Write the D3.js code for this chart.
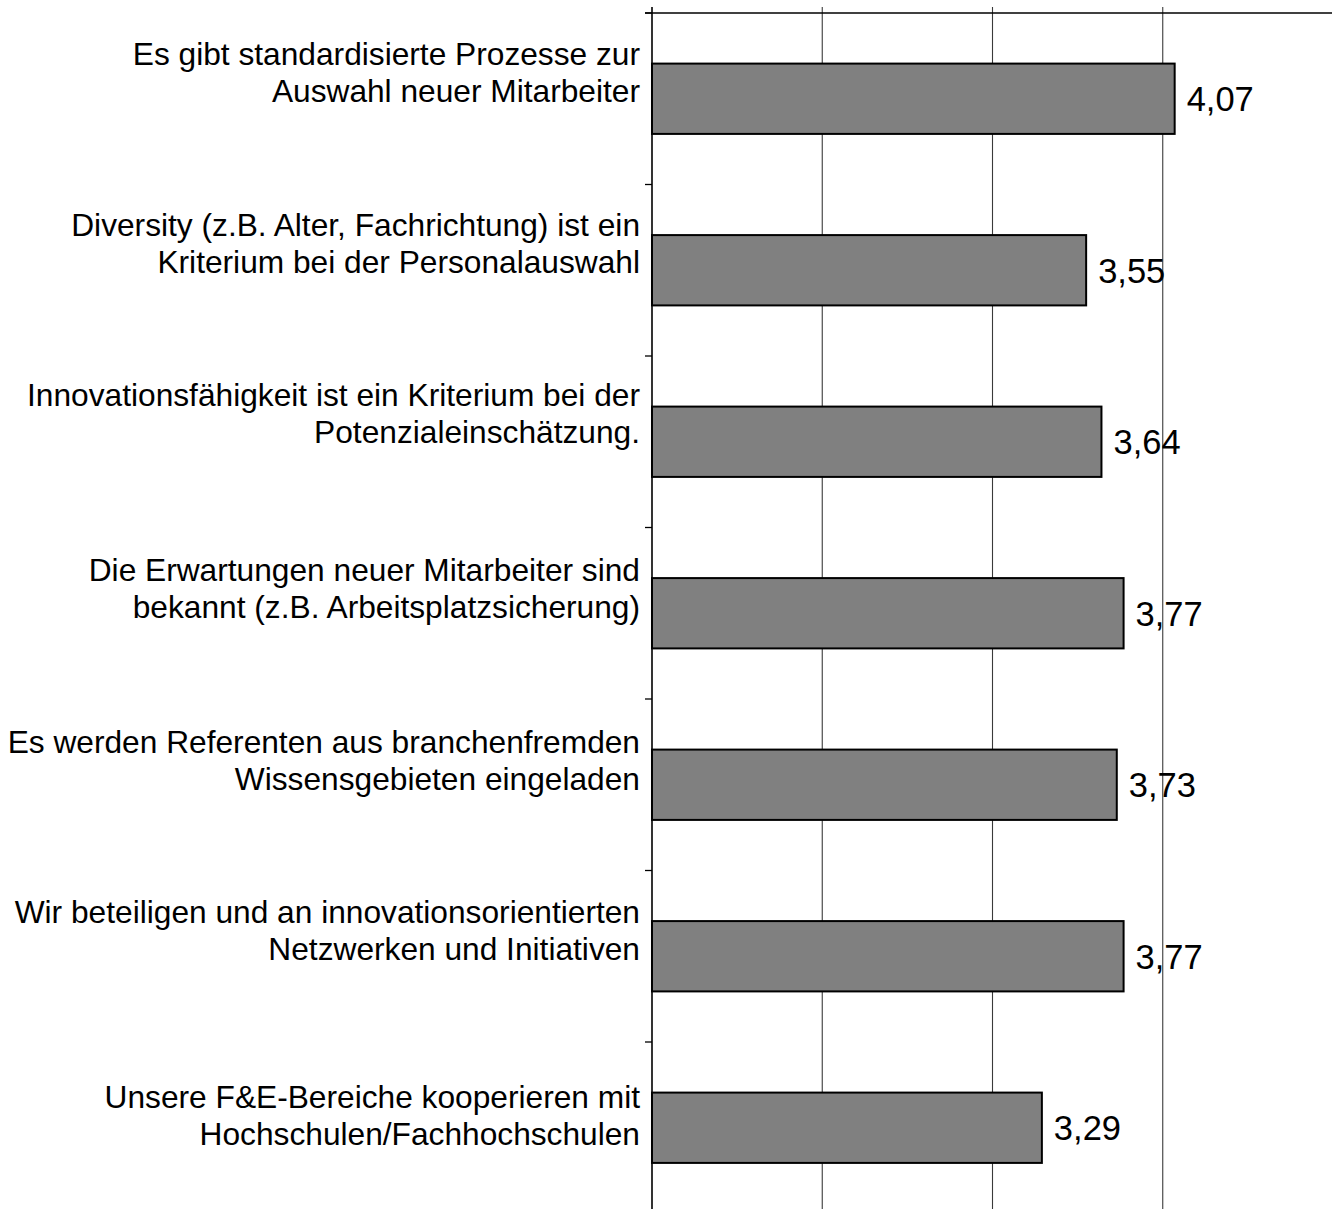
<!DOCTYPE html>
<html>
<head>
<meta charset="utf-8">
<script src="https://cdn.jsdelivr.net/npm/d3@7"></script>
<style>
  html, body { margin: 0; padding: 0; background: #fff; }
  svg { display: block; font-family: "Liberation Sans", Arial, sans-serif; }
</style>
</head>
<body>
<svg id="chart" width="1332" height="1209"></svg>
<script>
// ---- data ----
const categories = [
  "Es gibt standardisierte Prozesse zur\nAuswahl neuer Mitarbeiter",
  "Diversity (z.B. Alter, Fachrichtung) ist ein\nKriterium bei der Personalauswahl",
  "Innovationsfähigkeit ist ein Kriterium bei der\nPotenzialeinschätzung.",
  "Die Erwartungen neuer Mitarbeiter sind\nbekannt (z.B. Arbeitsplatzsicherung)",
  "Es werden Referenten aus branchenfremden\nWissensgebieten eingeladen",
  "Wir beteiligen und an innovationsorientierten\nNetzwerken und Initiativen",
  "Unsere F&E-Bereiche kooperieren mit\nHochschulen/Fachhochschulen"
];
const values = [4.07, 3.55, 3.64, 3.77, 3.73, 3.77, 3.29];
const xTicks = [1, 2, 3, 4, 5];

// ---- layout ----
const W = 1332, H = 1209;
const plotLeft = 652, plotRight = 1333, plotTop = 13;
const step = 171.5;
const plotBottom = plotTop + step * categories.length;
const labelShift = [3.5, 3, 1.5, 5, 5, 4, 17]; // baseline offsets of 2nd label line vs band centre
const lineGap = 37;

const svg = d3.select("#chart");
const fmt = v => d3.format(".2f")(v).replace(".", ",");

const x = d3.scaleLinear().domain([1, 5]).range([plotLeft, plotRight]);
const yBand = d3.scaleBand().domain(d3.range(categories.length)).range([plotTop, plotBottom]).padding(0);
const yBar = d3.scaleBand().domain(d3.range(categories.length)).range([plotTop, plotBottom])
  .paddingInner(0.59).paddingOuter(0.295);

// gridlines (interior ticks only)
svg.append("g").selectAll("line").data(xTicks.filter(t => t > 1 && t < 5)).join("line")
  .attr("x1", d => x(d)).attr("x2", d => x(d))
  .attr("y1", plotTop - 6).attr("y2", H)
  .attr("stroke", "#3a3a3a").attr("stroke-width", 1.1);

// top axis line
svg.append("line")
  .attr("x1", plotLeft - 7).attr("x2", W)
  .attr("y1", plotTop).attr("y2", plotTop)
  .attr("stroke", "#000").attr("stroke-width", 1.5);

// bars
svg.append("g").selectAll("rect").data(values).join("rect")
  .attr("x", x(1))
  .attr("y", (d, i) => yBar(i))
  .attr("width", d => x(d) - x(1))
  .attr("height", yBar.bandwidth())
  .attr("fill", "#808080")
  .attr("stroke", "#000")
  .attr("stroke-width", 2);

// left axis line
svg.append("line")
  .attr("x1", plotLeft).attr("x2", plotLeft)
  .attr("y1", plotTop - 6).attr("y2", H)
  .attr("stroke", "#000").attr("stroke-width", 1.6);

// category boundary ticks
svg.append("g").selectAll("line").data(d3.range(categories.length)).join("line")
  .attr("x1", plotLeft - 7).attr("x2", plotLeft)
  .attr("y1", d => yBand(d)).attr("y2", d => yBand(d))
  .attr("stroke", "#000").attr("stroke-width", 1.3);

// value labels
svg.append("g").selectAll("text").data(values).join("text")
  .attr("x", d => x(d) + 12)
  .attr("y", (d, i) => yBar(i) + yBar.bandwidth() / 2 + 12.5)
  .attr("font-size", 34.5)
  .attr("fill", "#000")
  .text(d => fmt(d));

// category labels
const lab = svg.append("g").selectAll("text").data(categories).join("text")
  .attr("text-anchor", "end")
  .attr("font-size", 31.7)
  .attr("fill", "#000");
lab.each(function(d, i) {
  const lines = d.split("\n");
  const cy = yBand(i) + yBand.bandwidth() / 2;
  const base2 = cy + labelShift[i];
  d3.select(this).selectAll("tspan").data(lines).join("tspan")
    .attr("x", 640)
    .attr("y", (l, j) => base2 - (lines.length - 1 - j) * lineGap)
    .text(l => l);
});
</script>
</body>
</html>
